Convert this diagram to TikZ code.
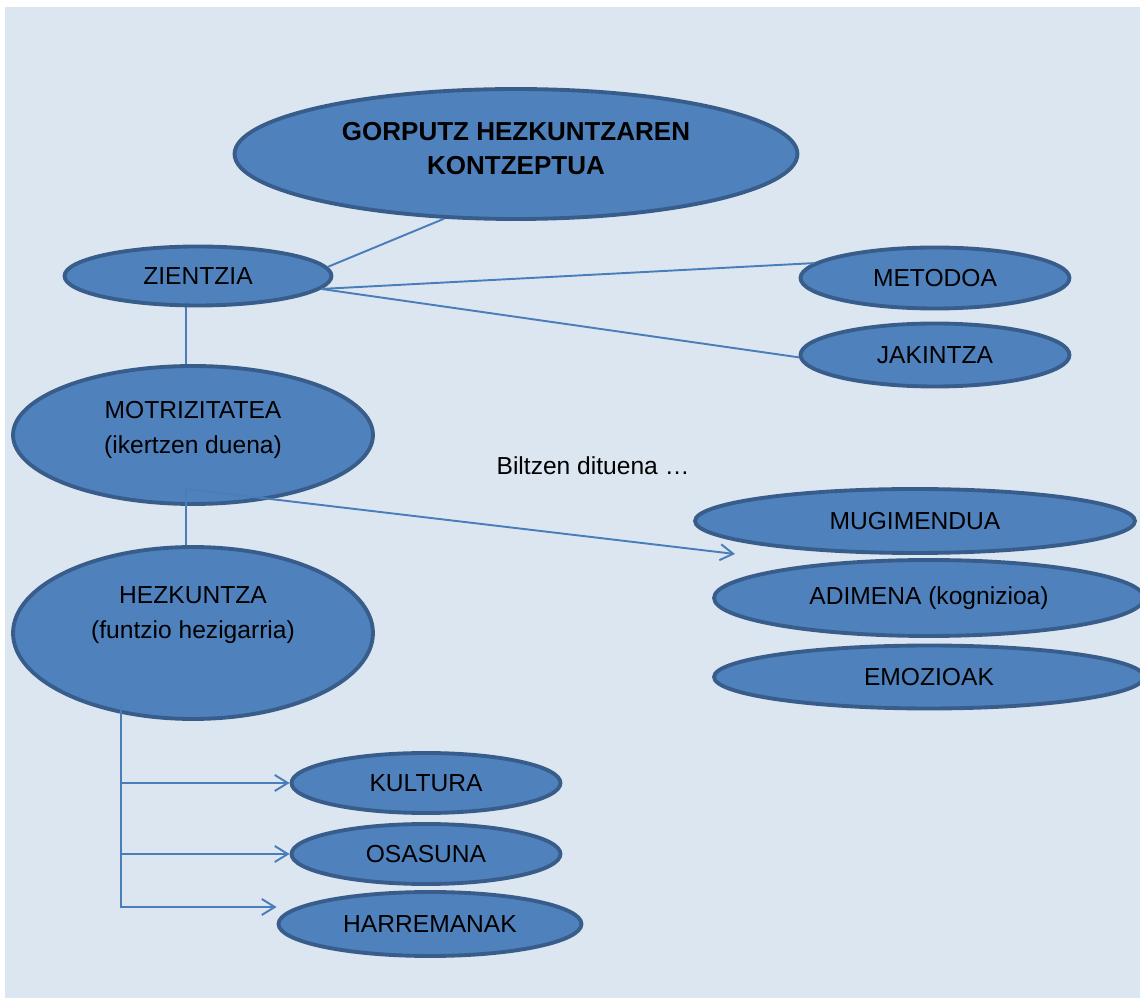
\documentclass[tikz,border=0pt]{standalone}
\usepackage{fontspec}
\setmainfont{Liberation Sans}
\usepackage{tikz}
\usetikzlibrary{arrows.meta, positioning, calc, shapes.geometric}
\definecolor{bgblue}{RGB}{220,230,241}
\definecolor{ovalfill}{RGB}{79,129,189}
\definecolor{ovaledge}{RGB}{56,93,138}
\definecolor{linkblue}{RGB}{74,126,187}

\begin{document}
\begin{tikzpicture}[
    x=0.02cm, y=-0.02cm,
    >={Straight Barb[length=2.6mm, width=3.2mm]},
    every node/.style={font=\fontsize{14}{20}\selectfont},
    oval/.style={ellipse, draw=ovaledge, fill=ovalfill, line width=2.2pt, inner sep=0pt, align=center},
    link/.style={draw=linkblue, line width=1.1pt},
]
    \useasboundingbox (0,0) rectangle (1140,999);
    \clip (0,0) rectangle (1140,999);
    \fill[bgblue] (5,7) rectangle (1140,998);

    % Title
    \node[oval, minimum width=11.26cm, minimum height=2.6cm,
        label={[align=center, yshift=3pt, font=\fontsize{14.8}{19.5}\selectfont\bfseries]center:GORPUTZ HEZKUNTZAREN\\KONTZEPTUA}] (gorputz) at (516,154) {};

    % Science branch
    \node[oval, minimum width=5.34cm, minimum height=1.18cm] (zientzia) at (198,276) {ZIENTZIA};
    \node[oval, minimum width=5.38cm, minimum height=1.22cm] (metodoa) at (935,278) {METODOA};
    \node[oval, minimum width=5.38cm, minimum height=1.26cm] (jakintza) at (935,355) {JAKINTZA};

    % Left column
    \node[oval, minimum width=7.2cm, minimum height=2.76cm,
        label={[align=center, yshift=3pt]center:MOTRIZITATEA\\(ikertzen duena)}] (motri) at (193,435) {};
    \node[oval, minimum width=7.2cm, minimum height=3.44cm,
        label={[align=center, yshift=10pt]center:HEZKUNTZA\\(funtzio hezigarria)}] (hezk) at (193,633) {};

    % What it gathers
    \node (biltzen) at (593,466) {Biltzen dituena …};
    \node[oval, minimum width=8.8cm, minimum height=1.28cm] (mugi) at (915,521) {MUGIMENDUA};
    \node[oval, minimum width=8.6cm, minimum height=1.52cm] (adimena) at (929,598) {ADIMENA (kognizioa)};
    \node[oval, minimum width=8.6cm, minimum height=1.26cm] (emozioak) at (929,677) {EMOZIOAK};

    % Education targets
    \node[oval, minimum width=5.38cm, minimum height=1.2cm] (kultura) at (426,783) {KULTURA};
    \node[oval, minimum width=5.38cm, minimum height=1.2cm] (osasuna) at (426,854) {OSASUNA};
    \node[oval, minimum width=6.06cm, minimum height=1.28cm] (harreman) at (430,924) {HARREMANAK};

    \coordinate (trunk) at (186,489);
    \coordinate (hezkb) at (121,703);
    \coordinate (mugiin) at (735,554);

    \draw[link] (gorputz.222) -- (zientzia.4);
    \draw[link] (zientzia.-6) -- (metodoa.173);
    \draw[link] (zientzia.-6) -- (jakintza.181);
    \draw[link] (zientzia.south -| trunk) -- (motri.north -| trunk);
    \draw[link] (trunk) -- (hezk.north -| trunk);
    \draw[link, ->] (trunk) -- (mugiin);

    \draw[link, ->] (hezkb) |- ($(harreman.west)+(0,-17)$);
    \draw[link, ->] (hezkb |- kultura.west) -- (kultura.west);
    \draw[link, ->] (hezkb |- osasuna.west) -- (osasuna.west);
\end{tikzpicture}
\end{document}
